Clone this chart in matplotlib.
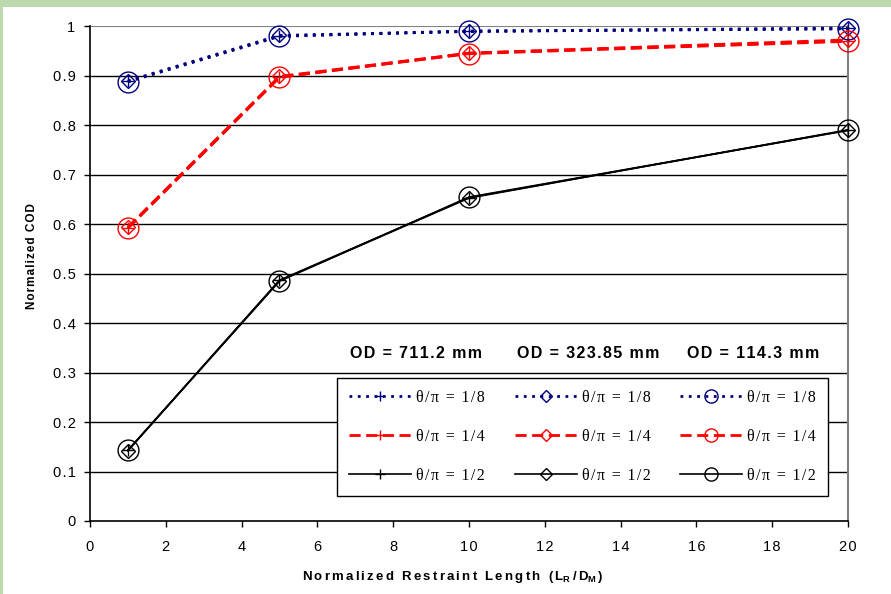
#%% MODULE BEGINS
'''
Description:
    normalized COD vs normalized restraint length, three pipe ODs and three crack angles
'''
#%% IMPORTS ~~~~~~~~~~~~~~~~~~~~~~~~~~~~~~~~~~~~~~~~~~~~
import matplotlib
matplotlib.use('Agg')
import matplotlib.pyplot as plt
from matplotlib.patches import Rectangle

#%% CONSTANTS ~~~~~~~~~~~~~~~~~~~~~~~~~~~~~~~~~~~~~~~~~~~~
restraint_length = [1, 5, 10, 20]

od_labels = ['OD = 711.2 mm', 'OD = 323.85 mm', 'OD = 114.3 mm']
theta_labels = ['\u03b8/\u03c0 = 1/8', '\u03b8/\u03c0 = 1/4', '\u03b8/\u03c0 = 1/2']

# OD = 711.2 mm
cod_711_18 = [0.889, 0.981, 0.990, 0.996]
cod_711_14 = [0.592, 0.897, 0.946, 0.971]
cod_711_12 = [0.143, 0.487, 0.654, 0.790]
# OD = 323.85 mm
cod_323_18 = [0.890, 0.982, 0.990, 0.997]
cod_323_14 = [0.594, 0.899, 0.946, 0.973]
cod_323_12 = [0.142, 0.486, 0.653, 0.791]
# OD = 114.3 mm
cod_114_18 = [0.888, 0.980, 0.991, 0.995]
cod_114_14 = [0.593, 0.898, 0.945, 0.970]
cod_114_12 = [0.143, 0.485, 0.655, 0.790]

x_ticks = list(range(0, 21, 2))
x_tick_labels = [str(v) for v in x_ticks]
y_ticks = [i / 10 for i in range(11)]
y_tick_labels = ['0', '0.1', '0.2', '0.3', '0.4', '0.5', '0.6', '0.7', '0.8', '0.9', '1']

#%% CONFIGURATION ~~~~~~~~~~~~~~~~~~~~~~~~~~~~~~~~~~~~~~~~~~~~
plt.rcParams['font.family'] = ['Liberation Sans', 'DejaVu Sans']

line_styles = {
    '1/8': dict(color='#000080', linestyle=(0, (1, 2)), linewidth=2.0),
    '1/4': dict(color='#ff0000', linestyle=(0, (4, 2)), linewidth=2.0),
    '1/2': dict(color='black', linestyle='-', linewidth=1.2),
}
marker_styles = [
    dict(marker='+', markersize=8, markeredgewidth=1.0),
    dict(marker='D', markersize=7.5, markeredgewidth=1.0, markerfacecolor='none'),
    dict(marker='o', markersize=15, markeredgewidth=1.0, markerfacecolor='none'),
]
legend_marker_sizes = [7.5, 6, 9.5]

HS = '\u200a'  # hair space for the wide letter spacing


def spaced(s, n=1):
    return (HS * n).join(s)

#%% MAIN ~~~~~~~~~~~~~~~~~~~~~~~~~~~~~~~~~~~~~~~~~~~~
def main():
    fig = plt.figure(figsize=(8.91, 5.94), dpi=100)
    fig.patch.set_facecolor('#bcdaae')
    bg = Rectangle((3 / 891, 0), 1, 1 - 7 / 594, transform=fig.transFigure,
                   facecolor='white', edgecolor='none', zorder=-10)
    fig.add_artist(bg)

    ax = fig.add_axes([0.101, 0.1229, 0.8507, 0.8325])
    ax.set_facecolor('white')

    groups = [
        [cod_711_18, cod_711_14, cod_711_12],
        [cod_323_18, cod_323_14, cod_323_12],
        [cod_114_18, cod_114_14, cod_114_12],
    ]
    keys = ['1/8', '1/4', '1/2']

    handles = []
    for g, series_list in enumerate(groups):
        for i, series in enumerate(series_list):
            st = line_styles[keys[i]]
            h, = ax.plot(restraint_length, series, label=spaced(theta_labels[i]),
                         markeredgecolor=st['color'], clip_on=False, zorder=3,
                         **st, **marker_styles[g])
            handles.append(h)

    ax.set_xlim(0, 20)
    ax.set_ylim(0, 1)
    ax.set_xticks(x_ticks)
    ax.set_xticklabels([spaced(t) for t in x_tick_labels])
    ax.set_yticks(y_ticks)
    ax.set_yticklabels([spaced(t) for t in y_tick_labels])
    ax.tick_params(axis='both', labelsize=10.5, direction='out', length=4.5, width=1, colors='black')
    ax.tick_params(axis='x', pad=9.5)
    ax.tick_params(axis='y', pad=6)

    for y in y_ticks[1:-1]:
        ax.axhline(y, color='black', linewidth=1.0, zorder=1)
    ax.axhline(1.0, color='#808080', linewidth=1.5, zorder=1)

    ax.spines['left'].set_color('black')
    ax.spines['bottom'].set_color('black')
    ax.spines['left'].set_linewidth(1.2)
    ax.spines['bottom'].set_linewidth(1.2)
    ax.spines['top'].set_visible(False)
    ax.spines['right'].set_color('#808080')
    ax.spines['right'].set_linewidth(1.5)

    ax.set_xlabel(spaced('Normalized Restraint Length (L', 2) + '$_\\mathregular{R}$' + HS * 2 + '/' + HS * 2
                  + 'D$_\\mathregular{M}$' + HS * 2 + ')',
                  fontsize=9.5, fontweight='bold')
    ax.xaxis.set_label_coords((453 - 90) / 758, (521 - 577) / 494.5)
    ax.set_ylabel(spaced('Normalized COD'), fontsize=8.5, fontweight='bold')
    ax.yaxis.set_label_coords((32 - 90) / 758, (521 - 256) / 494.5)
    ax.xaxis.label.set_va('center')
    ax.yaxis.label.set_va('center')

    # OD headings above legend columns
    for lbl, xp in zip(od_labels, [416, 588, 753]):
        fig.text(xp / 891, 1 - 353 / 594, spaced(lbl), ha='center', va='center',
                 fontsize=11.5, fontweight='bold')

    leg = ax.legend(handles=handles, ncol=3, loc='lower left',
                    bbox_to_anchor=(337 / 891, 1 - 496 / 594, (828 - 337) / 891, (496 - 373) / 594),
                    bbox_transform=fig.transFigure, mode='expand',
                    prop={'family': 'Liberation Serif', 'size': 11.5},
                    frameon=True, fancybox=False, edgecolor='black', framealpha=1,
                    handlelength=3.9, handletextpad=0.3, columnspacing=1.0,
                    labelspacing=1.45, borderpad=0.75, borderaxespad=0)
    leg.get_frame().set_linewidth(1.0)
    leg.set_zorder(5)
    # smaller markers inside the legend box
    for j, lh in enumerate(leg.legend_handles):
        lh.set_markersize(legend_marker_sizes[j // 3])

    fig.savefig('out.png', dpi=100, facecolor=fig.get_facecolor())
    plt.close(fig)

#%% SELF-RUN ~~~~~~~~~~~~~~~~~~~~~~~~~~~~~~~~~~~~~~~~~~~~
if __name__ == "__main__":
    main()
